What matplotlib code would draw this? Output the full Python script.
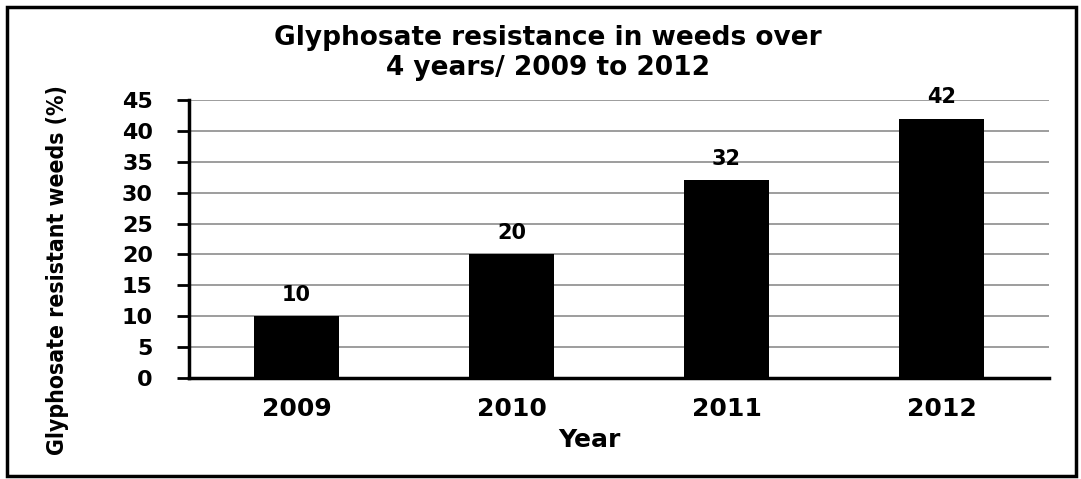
import matplotlib.pyplot as plt
import matplotlib.patches as patches

plt.rcParams['font.family'] = ['DejaVu Sans']

# 数据
years = ['2009', '2010', '2011', '2012']
resistant = [10, 20, 32, 42]
y_ticks = [0, 5, 10, 15, 20, 25, 30, 35, 40, 45]

fig = plt.figure(figsize=(10.81, 4.79), dpi=100)
ax = fig.add_axes([0.1748, 0.2109, 0.7956, 0.5803])

x = list(range(len(years)))
bars = ax.bar(x, resistant, width=0.395, color='black', zorder=3)

# 数值标签
for xi, v in zip(x, resistant):
    ax.annotate(str(v), (xi, v), xytext=(0, 8), textcoords='offset points',
                ha='center', va='bottom', fontsize=15, fontweight='bold')

ax.set_xlim(-0.5, 3.5)
ax.set_ylim(0, 45)
ax.set_yticks(y_ticks)
ax.set_xticks(x)
ax.set_xticklabels(years)
ax.yaxis.grid(True, color='#8c8c8c', linewidth=1.2, zorder=0)
ax.set_axisbelow(True)

for s in ['top', 'right']:
    ax.spines[s].set_visible(False)
ax.spines['left'].set_linewidth(2.5)
ax.spines['bottom'].set_linewidth(2.5)

ax.tick_params(axis='y', length=9, width=2, labelsize=16, pad=17)
ax.tick_params(axis='x', length=0, labelsize=18, pad=14)
for lab in ax.get_yticklabels() + ax.get_xticklabels():
    lab.set_fontweight('bold')

ax.set_xlabel('Year', fontsize=18, fontweight='bold')
ax.xaxis.set_label_coords(0.466, -0.18)
ax.set_ylabel('Glyphosate resistant weeds (%)', fontsize=16.5, fontweight='bold',
              fontstretch='condensed')
ax.yaxis.set_label_coords(-0.139, 0.39)

fig.text(0.507, 0.889, 'Glyphosate resistance in weeds over\n4 years/ 2009 to 2012',
         ha='center', va='center', fontsize=19, fontweight='bold', linespacing=1.2)

# 外边框
frame = patches.Rectangle((0.0065, 0.006), 0.989, 0.979, transform=fig.transFigure,
                          fill=False, edgecolor='black', linewidth=2.5)
fig.patches.append(frame)

plt.savefig('out.png', dpi=100)
